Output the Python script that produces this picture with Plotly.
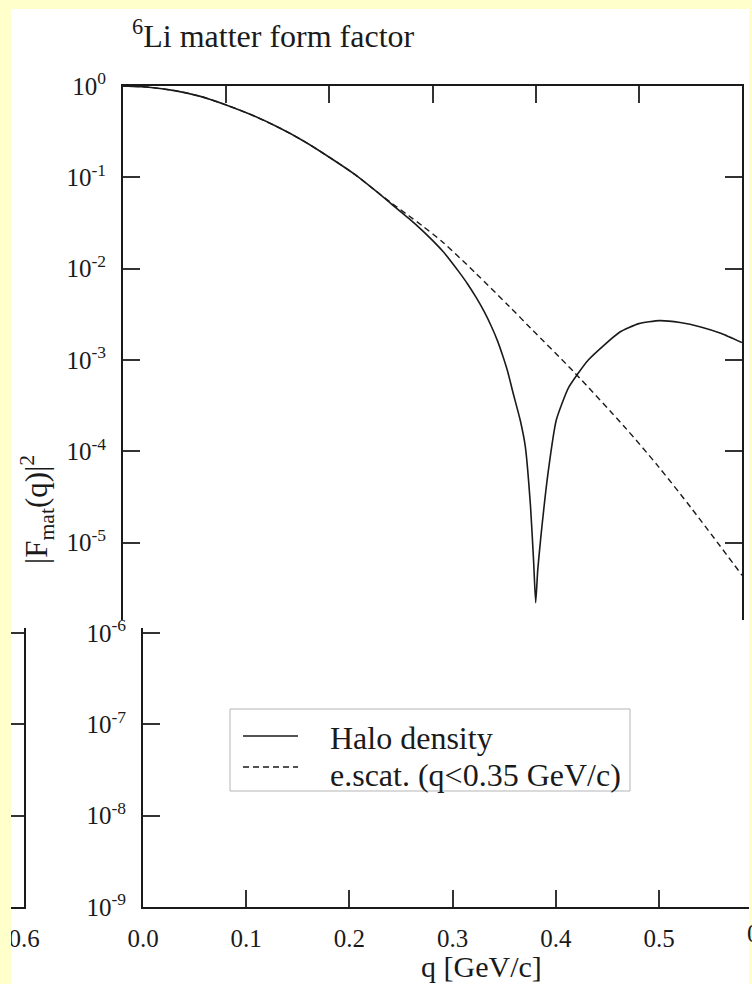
import plotly.graph_objects as go

W, H = 752, 984

# |F_mat(q)|^2 for the halo density (solid) and the electron-scattering fit (dashed)
q_halo = [0.0, 0.025, 0.05, 0.075, 0.10, 0.125, 0.15, 0.175, 0.20, 0.225, 0.245, 0.26,
          0.277, 0.29, 0.30, 0.31, 0.318, 0.326, 0.334, 0.342, 0.35, 0.357, 0.363, 0.368,
          0.373, 0.378, 0.385, 0.390, 0.395, 0.398, 0.400, 0.402, 0.405, 0.412, 0.420,
          0.432, 0.451, 0.481, 0.500, 0.520, 0.540, 0.560, 0.580, 0.600]
f_halo = [1.0, 0.97, 0.89, 0.77, 0.62, 0.48, 0.355, 0.25, 0.166, 0.107, 0.071, 0.0513,
          0.0355, 0.0263, 0.0204, 0.0155, 0.0120, 9.1e-3, 6.8e-3, 4.9e-3, 3.4e-3, 2.34e-3,
          1.62e-3, 1.12e-3, 7.4e-4, 4.4e-4, 2.2e-4, 1.12e-4, 2.5e-5, 6.3e-6, 2.2e-6,
          5.0e-6, 1.15e-5, 5.8e-5, 2.2e-4, 5.0e-4, 1.0e-3, 2.0e-3, 2.5e-3, 2.7e-3,
          2.57e-3, 2.3e-3, 1.95e-3, 1.55e-3]

q_escat = [0.0, 0.025, 0.05, 0.075, 0.10, 0.125, 0.15, 0.175, 0.20, 0.225, 0.245, 0.26,
           0.277, 0.29, 0.310, 0.342, 0.374, 0.395, 0.438, 0.486, 0.519, 0.552, 0.600]
f_escat = [1.0, 0.97, 0.89, 0.77, 0.62, 0.48, 0.355, 0.25, 0.166, 0.107, 0.071, 0.0525,
           0.038, 0.0295, 0.0195, 8.9e-3, 3.9e-3, 2.24e-3, 7.2e-4, 1.86e-4, 6.8e-5,
           2.3e-5, 4.4e-6]

upper_ytick_vals = [1, 1e-1, 1e-2, 1e-3, 1e-4, 1e-5]
upper_ytick_text = ["10<sup>0</sup>", "10<sup>-1</sup>", "10<sup>-2</sup>",
                    "10<sup>-3</sup>", "10<sup>-4</sup>", "10<sup>-5</sup>"]
lower_ytick_vals = [1e-6, 1e-7, 1e-8, 1e-9]
lower_ytick_text = ["10<sup>-6</sup>", "10<sup>-7</sup>", "10<sup>-8</sup>", "10<sup>-9</sup>"]
xtick_vals = [0.0, 0.1, 0.2, 0.3, 0.4, 0.5]
xtick_text = ["0.0", "0.1", "0.2", "0.3", "0.4", "0.5"]

legend_labels = ["Halo density", "e.scat. (q<0.35 GeV/c)"]

FONT = "Liberation Serif"
INK = "#1a1a1a"
YELLOW = "#FFFFCC"


def fx(px):
    return px / W


def fy(py):
    return 1 - py / H


fig = go.Figure()
fig.add_trace(go.Scatter(x=q_halo, y=f_halo, mode="lines", name=legend_labels[0],
                         line=dict(color=INK, width=1.6, shape="spline", smoothing=0.5),
                         xaxis="x", yaxis="y", showlegend=False))
fig.add_trace(go.Scatter(x=q_escat, y=f_escat, mode="lines", name=legend_labels[1],
                         line=dict(color=INK, width=1.4, dash="6px,4px", shape="spline",
                                   smoothing=0.8),
                         xaxis="x", yaxis="y", showlegend=False))
# empty traces so the lower frame and the edge strip get drawn
fig.add_trace(go.Scatter(x=[], y=[], xaxis="x2", yaxis="y2", showlegend=False,
                         hoverinfo="skip"))
fig.add_trace(go.Scatter(x=[], y=[], xaxis="x3", yaxis="y3", showlegend=False,
                         hoverinfo="skip"))

axis_common = dict(showgrid=False, zeroline=False, showline=True, linecolor=INK, linewidth=2,
                   ticks="inside", ticklen=17, tickwidth=1.5, tickcolor="#333",
                   automargin=False,
                   tickfont=dict(family=FONT, size=25, color=INK))

fig.update_layout(
    # upper panel: 10^0 .. just above 10^-6
    xaxis=dict(axis_common, domain=[fx(123), fx(742)], range=[0, 0.6], side="top",
               anchor="y", tickvals=xtick_vals[1:], showticklabels=False),
    yaxis=dict(axis_common, domain=[fy(620), fy(86)], type="log", range=[-5.847, 0],
               anchor="x", tickvals=upper_ytick_vals, ticktext=upper_ytick_text,
               mirror="ticks", ticklabelstandoff=10),
    # lower panel: 10^-6 .. 10^-9
    xaxis2=dict(axis_common, domain=[fx(143), 1.0], range=[0, 609 / 1032], anchor="y2",
                tickvals=xtick_vals, ticktext=xtick_text, ticklabelstandoff=8),
    yaxis2=dict(axis_common, domain=[fy(907), fy(628)], type="log", range=[-9, -5.945],
                anchor="x2", tickvals=lower_ytick_vals, ticktext=lower_ytick_text,
                ticklabelstandoff=10),
    # narrow strip at the left edge: right end of a further copy of the lower frame
    xaxis3=dict(axis_common, domain=[0, fx(24)], range=[0.6 - 24 / 1032, 0.6], anchor="y3",
                tickvals=[0.6], ticktext=["0.6"], ticklabelstandoff=8),
    yaxis3=dict(axis_common, domain=[fy(907), fy(628)], type="log", range=[-9, -5.945],
                anchor="x3", side="right", tickvals=lower_ytick_vals, showticklabels=False),
)

# legend box with its two line samples
LEG_X0, LEG_X1, LEG_Y0, LEG_Y1 = 230, 630, 709, 791
ROW_Y = [738, 775]
shapes = [
    dict(type="rect", xref="paper", yref="paper", x0=fx(11), x1=fx(749), y0=0, y1=fy(9),
         fillcolor="white", line=dict(width=0), layer="below"),
    dict(type="rect", xref="paper", yref="paper", x0=fx(LEG_X0), x1=fx(LEG_X1),
         y0=fy(LEG_Y1), y1=fy(LEG_Y0), fillcolor="white",
         line=dict(color="#b5b5b5", width=1), layer="above"),
    dict(type="line", xref="paper", yref="paper", x0=fx(243), x1=fx(298),
         y0=fy(ROW_Y[0] - 2), y1=fy(ROW_Y[0] - 2), line=dict(color=INK, width=1.6),
         layer="above"),
    dict(type="line", xref="paper", yref="paper", x0=fx(243), x1=fx(298),
         y0=fy(ROW_Y[1] - 8), y1=fy(ROW_Y[1] - 8),
         line=dict(color=INK, width=1.4, dash="6px,4px"), layer="above"),
    # yellow frame drawn over the axes
    dict(type="rect", xref="paper", yref="paper", x0=0, x1=fx(11), y0=0, y1=1,
         fillcolor=YELLOW, line=dict(width=0), layer="above"),
    dict(type="rect", xref="paper", yref="paper", x0=fx(749), x1=1, y0=0, y1=1,
         fillcolor=YELLOW, line=dict(width=0), layer="above"),
    dict(type="rect", xref="paper", yref="paper", x0=0, x1=1, y0=fy(9), y1=1,
         fillcolor=YELLOW, line=dict(width=0), layer="above"),
]

annotations = [
    dict(text="<sup>6</sup>Li matter form factor", xref="paper", yref="paper",
         x=fx(130), y=fy(34), xanchor="left", yanchor="middle", showarrow=False,
         font=dict(family=FONT, size=32, color=INK)),
    dict(text="|F<sub>mat</sub>(q)|<sup>2</sup>", xref="paper", yref="paper",
         x=fx(37), y=fy(510), xanchor="center", yanchor="middle", textangle=-90,
         showarrow=False, font=dict(family=FONT, size=31, color=INK)),
    dict(text="q [GeV/c]", xref="paper", yref="paper", x=fx(481), y=fy(966),
         xanchor="center", yanchor="middle", showarrow=False,
         font=dict(family=FONT, size=30, color=INK)),
    dict(text="0.6", xref="paper", yref="paper", x=fx(762), y=fy(933),
         xanchor="center", yanchor="middle", showarrow=False,
         font=dict(family=FONT, size=25, color=INK)),
]
for label, ry in zip(legend_labels, ROW_Y):
    annotations.append(dict(text=label, xref="paper", yref="paper", x=fx(328), y=fy(ry),
                            xanchor="left", yanchor="middle", showarrow=False,
                            font=dict(family=FONT, size=32, color=INK)))

fig.update_layout(
    width=W, height=H, margin=dict(l=0, r=0, t=0, b=0),
    paper_bgcolor=YELLOW, plot_bgcolor="rgba(0,0,0,0)",
    font=dict(family=FONT, color=INK),
    shapes=shapes, annotations=annotations,
    showlegend=False,
)

fig.write_html("out.html")
